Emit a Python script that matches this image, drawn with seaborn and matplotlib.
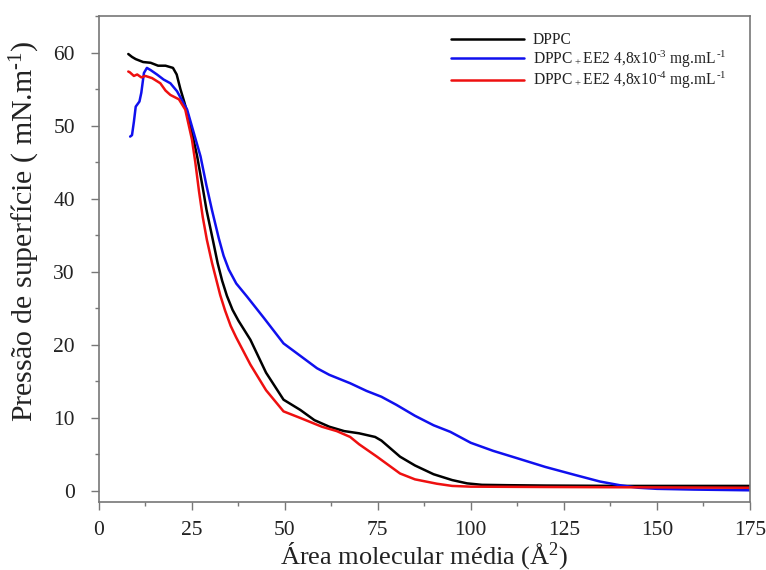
import numpy as np
import pandas as pd
import matplotlib
matplotlib.use("Agg")
import matplotlib.pyplot as plt
import seaborn as sns
from matplotlib.ticker import MultipleLocator

# ---- data ----
dppc_x = [8, 9, 10, 12, 14, 16, 18, 20, 21, 22, 23, 24, 25, 26.5, 28, 29, 30.7, 32, 33.2, 34.5, 36, 37.6, 40.8,
          45, 49.7, 54.2, 58, 62, 66, 70, 74.3, 76, 81, 85, 90, 95, 99, 103, 110, 120, 140, 160, 175]
dppc_y = [59.8, 59.4, 59.1, 58.7, 58.6, 58.2, 58.2, 57.9, 57.0, 55.0, 53.3, 51.5, 49.3, 45.8, 41.5, 38.5, 34.4, 31.2, 28.8, 26.7, 24.8, 23.3, 20.7,
          16.2, 12.5, 11.1, 9.7, 8.8, 8.2, 7.9, 7.4, 6.9, 4.7, 3.5, 2.3, 1.5, 1.05, 0.85, 0.8, 0.75, 0.7, 0.7, 0.7]

ee2_3_x = [8.5, 9, 9.5, 10, 11, 11.5, 12.2, 13, 14, 15.7, 17.5, 19.3, 21.1, 23.8, 27.4, 29, 30.5, 32.3, 33.6,
           35, 37, 39.9, 44.4, 49.7, 55, 58.7, 62, 67.6, 72, 76, 80, 85, 90, 94.5, 100, 106, 112.4, 120, 128,
           134.7, 140, 145, 150, 160, 175]
ee2_3_y = [48.5, 48.7, 50.5, 52.6, 53.3, 54.5, 57.2, 57.9, 57.6, 57.0, 56.3, 55.8, 54.7, 52.2, 45.8, 41.8, 38.4, 34.6, 32.2,
           30.3, 28.4, 26.6, 23.7, 20.2, 18.2, 16.8, 15.9, 14.75, 13.7, 12.9, 11.8, 10.3, 9.0, 8.1, 6.6, 5.5, 4.5, 3.3, 2.2,
           1.3, 0.8, 0.45, 0.3, 0.2, 0.1]

ee2_4_x = [8, 8.4, 9.5, 10.4, 11.5, 12.6, 14.4, 16.6, 18, 19.3, 21.6, 23.3, 25.1, 26, 27, 28, 29.1, 30.5, 32.7, 34, 35.5, 37,
           40.8, 45, 49.7, 54.2, 60, 64, 67.6, 70, 74.8, 81, 85, 90.9, 95, 100, 120, 150, 175]
ee2_4_y = [57.4, 57.3, 56.8, 57.0, 56.6, 56.8, 56.5, 55.8, 54.8, 54.2, 53.6, 52.2, 48.1, 45.0, 41.0, 37.5, 34.4, 31.2, 26.8, 24.7, 22.6, 21.0,
           17.3, 13.8, 10.9, 10.0, 8.8, 8.2, 7.4, 6.4, 4.7, 2.4, 1.6, 1.0, 0.7, 0.6, 0.55, 0.5, 0.45]

labels = ["DPPC",
          "DPPC$_{\\,+}$EE2 4,8x10$^{\u20103}$ mg.mL$^{\\,\u20101}$",
          "DPPC$_{\\,+}$EE2 4,8x10$^{\u20104}$ mg.mL$^{\\,\u20101}$"]
colors = ["#000000", "#1010ee", "#ee1010"]

df = pd.concat([
    pd.DataFrame({"x": dppc_x, "y": dppc_y, "s": labels[0]}),
    pd.DataFrame({"x": ee2_3_x, "y": ee2_3_y, "s": labels[1]}),
    pd.DataFrame({"x": ee2_4_x, "y": ee2_4_y, "s": labels[2]}),
], ignore_index=True)

sns.set_style("ticks")
plt.rcParams["font.family"] = ["Liberation Serif", "DejaVu Serif"]
plt.rcParams["mathtext.fontset"] = "custom"
plt.rcParams["mathtext.rm"] = "Liberation Serif"
plt.rcParams["mathtext.it"] = "Liberation Serif:italic"
plt.rcParams["mathtext.default"] = "regular"

fig = plt.figure(figsize=(7.66, 5.70), dpi=100)
ax = fig.add_axes([98.5 / 766, 1 - 502 / 570, (750 - 98.5) / 766, (502 - 16) / 570])

sns.lineplot(data=df, x="x", y="y", hue="s", palette=dict(zip(labels, colors)),
             sort=False, estimator=None, linewidth=1.8, ax=ax)

ax.set_xlim(0, 175)
ax.set_ylim(-1.5, 65)
ax.xaxis.set_major_locator(MultipleLocator(25))
ax.xaxis.set_minor_locator(MultipleLocator(12.5))
ax.yaxis.set_major_locator(MultipleLocator(10))
ax.yaxis.set_minor_locator(MultipleLocator(5))
ax.tick_params(which="major", direction="out", length=6, width=1, color="#777777",
               labelsize=15.5, labelcolor="#222222")
ax.tick_params(axis="y", which="major", pad=11)
ax.tick_params(axis="x", which="major", pad=8)
ax.tick_params(which="minor", direction="out", length=3, width=1, color="#777777")
for sp in ax.spines.values():
    sp.set_color("#777777")
    sp.set_linewidth(1.2)

ax.set_xlabel("Área molecular média (Å$^{2}$)", fontsize=19, color="#222222", labelpad=0)
ax.set_ylabel("Pressão de superfície ( mN.m$^{\u20101}$)", fontsize=21.5, color="#222222")
ax.yaxis.set_label_coords(-0.086, 0.558)

leg = ax.legend(loc="upper left", bbox_to_anchor=(0.52, 0.995), frameon=False, fontsize=11.2,
                handlelength=4.7, handletextpad=0.55, labelspacing=0.0)
for t in leg.get_texts():
    t.set_color("#222222")

fig.savefig("out.png", dpi=100)
